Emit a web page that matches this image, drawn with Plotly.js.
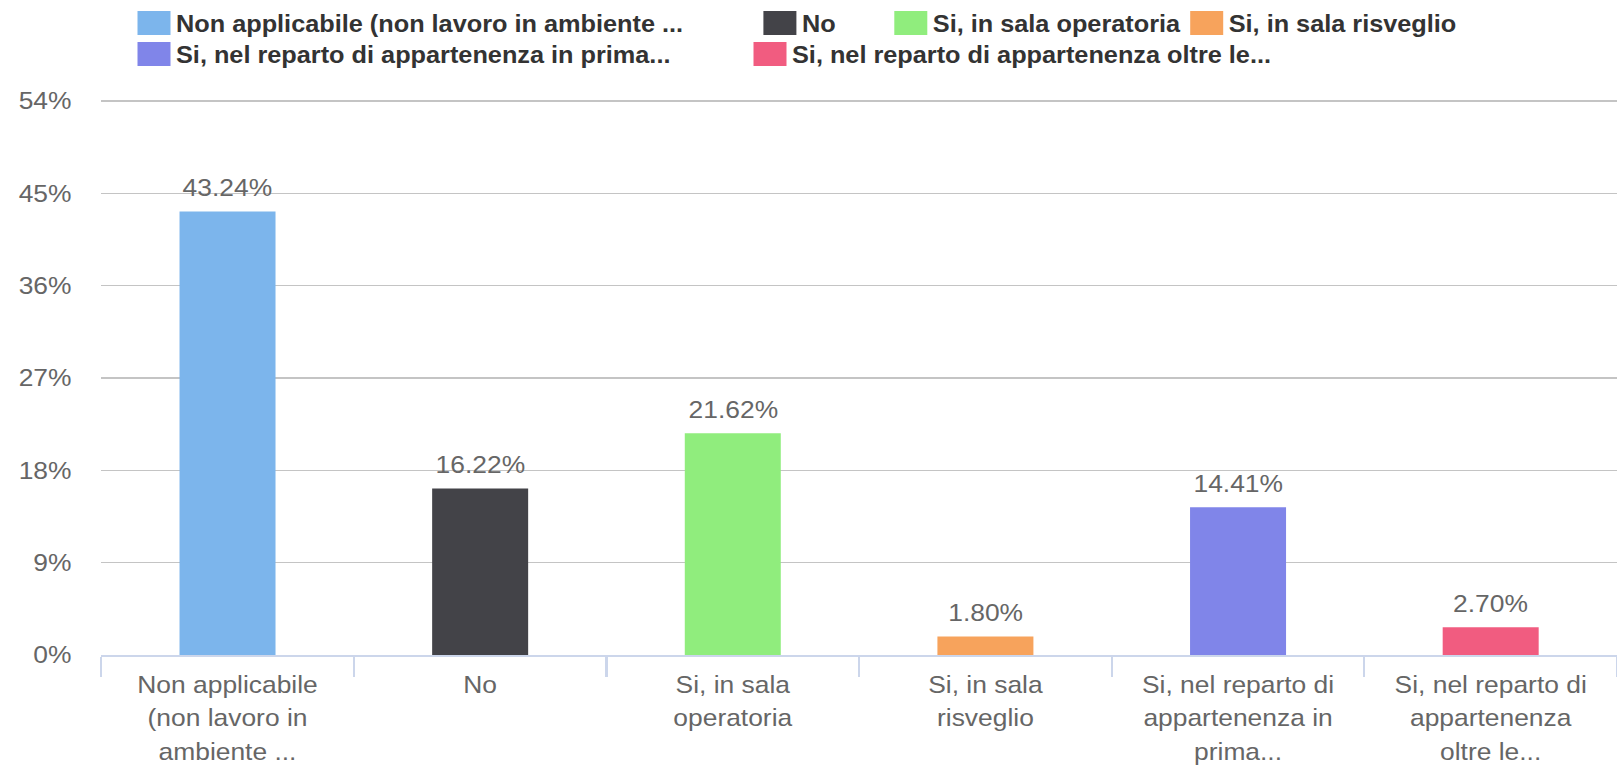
<!DOCTYPE html>
<html>
<head>
<meta charset="utf-8">
<script src="https://cdn.plot.ly/plotly-3.0.1.min.js"></script>
<style>
  html, body { margin: 0; padding: 0; background: #ffffff; overflow: hidden; }
  #chart { width: 1470px; height: 766px; transform: scaleX(1.1); transform-origin: 0 0; }
</style>
</head>
<body>
<div id="chart"></div>
<script>
// ---- data ----
const categories = [
  "Non applicabile (non lavoro in ambiente ...",
  "No",
  "Si, in sala operatoria",
  "Si, in sala risveglio",
  "Si, nel reparto di appartenenza in prima...",
  "Si, nel reparto di appartenenza oltre le..."
];
const tickLabels = [
  "Non applicabile<br>(non lavoro in<br>ambiente ...",
  "No",
  "Si, in sala<br>operatoria",
  "Si, in sala<br>risveglio",
  "Si, nel reparto di<br>appartenenza in<br>prima...",
  "Si, nel reparto di<br>appartenenza<br>oltre le..."
];
const values = [43.24, 16.22, 21.62, 1.80, 14.41, 2.70];
const colors = ["#7cb5ec", "#434348", "#90ed7d", "#f7a35c", "#8085e9", "#f15c80"];
const yTicks = [0, 9, 18, 27, 36, 45, 54];

// ---- layout constants (unstretched px) ----
const W = 1470, H = 766;
const mL = 92, mR = 0, mT = 100, mB = 111;
const plotW = W - mL - mR, plotH = H - mT - mB;
const yMax = 54.1;
// legend item starts (px) and row centers (px from top)
const legendStarts = [120, 689, 808, 1077, 120, 680];
const legendRowY = [23, 23, 23, 23, 54, 54];

const font = "'Liberation Sans', Arial, Helvetica, sans-serif";

const legendName = i => (i === 0 ? "legend" : "legend" + (i + 1));

const traces = categories.map((c, i) => ({
  type: "bar",
  x: [c],
  y: [values[i]],
  name: c,
  legend: legendName(i),
  marker: { color: colors[i] },
  hoverinfo: "skip"
}));

const layout = {
  width: W,
  height: H,
  margin: { l: mL, r: mR, t: mT, b: mB, pad: 0 },
  paper_bgcolor: "#ffffff",
  plot_bgcolor: "#ffffff",
  font: { family: font, size: 24, color: "#666666" },
  barmode: "overlay",
  bargap: 0.62,
  hovermode: false,
  xaxis: {
    type: "category",
    categoryorder: "array",
    categoryarray: categories,
    tickmode: "array",
    tickvals: categories,
    ticktext: tickLabels,
    tickson: "boundaries",
    ticks: "outside",
    ticklen: 20,
    tickwidth: 2,
    tickcolor: "#ccd6eb",
    ticklabelstandoff: 7,
    showline: true,
    linecolor: "#ccd6eb",
    linewidth: 2,
    showgrid: false,
    zeroline: false,
    tickangle: 0,
    tickfont: { family: font, size: 24, color: "#666666" },
    fixedrange: true
  },
  yaxis: {
    range: [0, yMax],
    tickmode: "array",
    tickvals: yTicks,
    ticktext: yTicks.map(v => v + "%"),
    showgrid: true,
    gridcolor: "#c4c4c4",
    gridwidth: 1.5,
    zeroline: false,
    showline: false,
    ticks: "",
    ticklabelstandoff: 26,
    tickfont: { family: font, size: 24, color: "#666666" },
    fixedrange: true
  },
  showlegend: true,
  annotations: values.map((v, i) => ({
    x: categories[i],
    y: v,
    xref: "x",
    yref: "y",
    text: v.toFixed(2) + "%",
    showarrow: false,
    yanchor: "middle",
    xanchor: "center",
    yshift: 24,
    font: { family: font, size: 24, color: "#666666" }
  }))
};

categories.forEach((c, i) => {
  layout[legendName(i)] = {
    orientation: "h",
    x: (legendStarts[i] - mL) / plotW,
    xanchor: "left",
    y: 1 + (mT - legendRowY[i]) / plotH,
    yanchor: "middle",
    bgcolor: "rgba(0,0,0,0)",
    borderwidth: 0,
    font: { family: font, size: 23, color: "#333333", weight: "bold" },
    itemclick: false,
    itemdoubleclick: false
  };
});

Plotly.newPlot("chart", traces, layout, { displayModeBar: false, staticPlot: true }).then(() => {
  // larger legend swatches, like the reference
  document.querySelectorAll("#chart .legendpoints path").forEach(p => {
    p.setAttribute("d", "M15,12H-15V-12H15Z");
  });
  // slightly taller line spacing for the wrapped category labels (scale each line offset)
  document.querySelectorAll("#chart .xtick text tspan.line").forEach(t => {
    const dy = t.getAttribute("dy");
    if (dy) {
      const v = parseFloat(dy);
      if (v > 0) t.setAttribute("dy", (v * 1.4 / 1.3).toFixed(3) + "em");
    }
  });
});
</script>
</body>
</html>
